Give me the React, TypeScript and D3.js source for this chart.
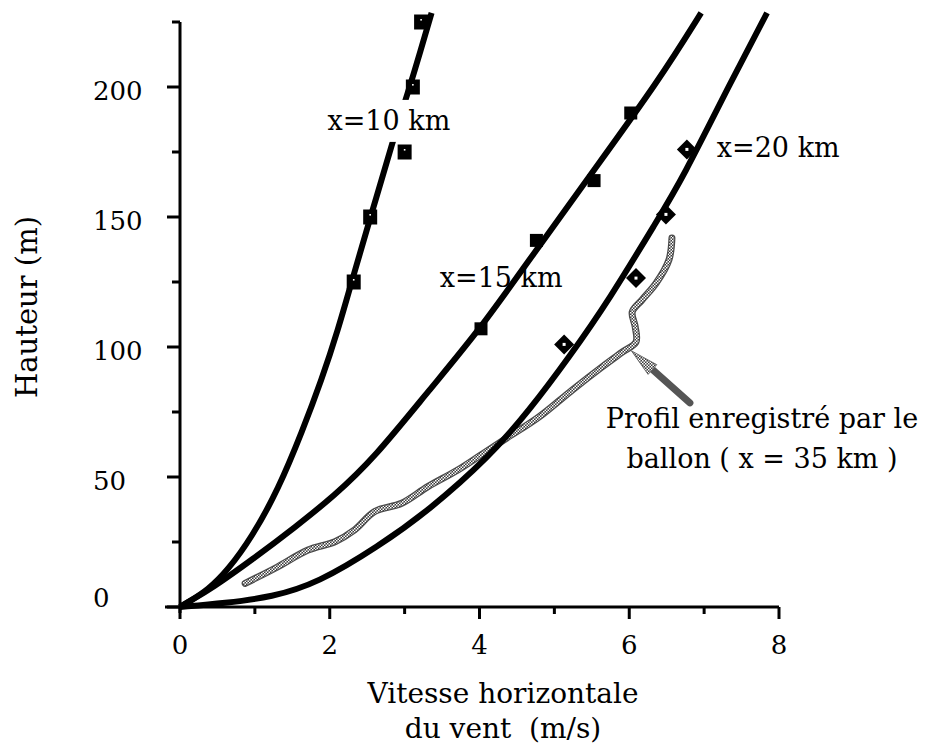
import React from 'react';
import * as d3 from 'd3';

const W = 929;
const H = 748;

// Model curves (v in m/s, h in m)
const curve10: [number, number][] = [
  [0, 0], [0.11, 1.9], [0.37, 6.5], [0.64, 14.2], [0.96, 26.9], [1.31, 45], [1.64, 68.1],
  [1.89, 87.3], [2.11, 106.5], [2.31, 126.9], [2.56, 151.5], [2.84, 178.8], [3.01, 195],
  [3.11, 203.8], [3.36, 228.5],
];
const curve15: [number, number][] = [
  [0, 0], [0.11, 1.9], [0.43, 7.3], [0.96, 18.1], [1.55, 31], [2.05, 42.5], [2.6, 57.5],
  [3.33, 83.5], [4.0, 106.5], [4.73, 136.2], [5.53, 168.1], [6.4, 202.7], [6.96, 228.5],
];
const curve20: [number, number][] = [
  [0, 0], [0.6, 1.5], [1.23, 3.8], [1.84, 9.2], [2.64, 23.1], [3.33, 37.3], [4.13, 57.7],
  [4.67, 75.8], [5.2, 96.2], [5.73, 118.1], [6.38, 149], [6.7, 164.2], [7.37, 202.7],
  [7.84, 228.5],
];

// Measured points
const points10: [number, number][] = [[2.32, 125], [2.54, 150], [3.0, 175], [3.11, 200], [3.22, 225]];
const points15: [number, number][] = [[4.02, 107], [4.76, 141], [5.53, 164], [6.02, 190]];
const points20: [number, number][] = [[5.13, 101], [6.09, 126.5], [6.49, 151], [6.77, 176]];

// Balloon profile (x = 35 km)
const balloon: [number, number][] = [
  [0.87, 9.1], [1.27, 14.9], [1.71, 21.9], [2.07, 25.1], [2.33, 29.6], [2.6, 36.7],
  [2.96, 39.9], [3.31, 46.3], [3.71, 52.7], [4.02, 58.5], [4.36, 64.9], [4.8, 73.2],
  [5.24, 83.5], [5.64, 92.4], [5.91, 98.1], [6.09, 101.9], [6.08, 107.7], [6.04, 113.5],
  [6.17, 118.1], [6.36, 124.6], [6.53, 133.5], [6.57, 141.9],
];

// Annotation arrow (tip, tail) in data units
const arrowTip: [number, number] = [6.03, 98.5];
const arrowTail: [number, number] = [6.81, 78.5];

const xTicks = [0, 1, 2, 3, 4, 5, 6, 7, 8];
const xLabels = [0, 2, 4, 6, 8];
const yTicks = [0, 25, 50, 75, 100, 125, 150, 175, 200, 225];
const yLabels = [0, 50, 100, 150, 200];

const curveLabels = [
  { text: 'x=10 km', v: 1.97, h: 183.5, box: true },
  { text: 'x=15 km', v: 3.47, h: 123, box: false },
  { text: 'x=20 km', v: 7.17, h: 173, box: false },
];
const balloonLabel = ['Profil enregistré par le', 'ballon ( x = 35 km )'];
const xTitle = ['Vitesse horizontale', 'du vent  (m/s)'];
const yTitle = 'Hauteur (m)';

const FONT = '"DejaVu Serif", serif';

export default function App() {
  const x = d3.scaleLinear().domain([0, 8]).range([180, 779]);
  const y = d3.scaleLinear().domain([0, 225]).range([607, 22]);

  const smooth = d3
    .line<[number, number]>()
    .x((d) => x(d[0]))
    .y((d) => y(d[1]))
    .curve(d3.curveBasis);

  const wiggly = d3
    .line<[number, number]>()
    .x((d) => x(d[0]))
    .y((d) => y(d[1]))
    .curve(d3.curveCatmullRom.alpha(0.5));

  const tip = [x(arrowTip[0]), y(arrowTip[1])];
  const tail = [x(arrowTail[0]), y(arrowTail[1])];
  const dx = tail[0] - tip[0];
  const dy = tail[1] - tip[1];
  const len = Math.hypot(dx, dy);
  const ux = dx / len, uy = dy / len;
  const px = -uy, py = ux;
  const headLen = 28, headHalf = 6.5;
  const base = [tip[0] + ux * headLen, tip[1] + uy * headLen];
  const headPts = [
    [tip[0], tip[1]],
    [base[0] + px * headHalf, base[1] + py * headHalf],
    [base[0] - px * headHalf, base[1] - py * headHalf],
  ];

  const diamond = (cx: number, cy: number, r: number) =>
    `M${cx},${cy - r}L${cx + r},${cy}L${cx},${cy + r}L${cx - r},${cy}Z`;

  return (
    <svg
      width={W}
      height={H}
      viewBox={`0 0 ${W} ${H}`}
      style={{ position: 'absolute', left: 0, top: 0, background: '#fff' }}
    >
      <defs>
        <pattern id="checker" patternUnits="userSpaceOnUse" width="3" height="3">
          <rect width="3" height="3" fill="#3a3a3a" />
          <rect x="0" y="0" width="1.5" height="1.5" fill="#fff" />
          <rect x="1.5" y="1.5" width="1.5" height="1.5" fill="#fff" />
        </pattern>
      </defs>
      <rect width={W} height={H} fill="#fff" />

      {/* axes */}
      <line x1={165} x2={x(8)} y1={y(0)} y2={y(0)} stroke="#000" strokeWidth={3} />
      <line x1={x(0)} x2={x(0)} y1={y(225)} y2={y(0) + 6} stroke="#000" strokeWidth={3} />
      {xTicks.map((t) => (
        <line
          key={'xt' + t}
          x1={x(t)}
          x2={x(t)}
          y1={y(0)}
          y2={y(0) + (t % 2 === 0 ? 12 : 7)}
          stroke="#000"
          strokeWidth={3}
        />
      ))}
      {yTicks.map((t) => (
        <line
          key={'yt' + t}
          x1={x(0) - (t % 50 === 0 ? 13 : 8)}
          x2={x(0)}
          y1={y(t)}
          y2={y(t)}
          stroke="#000"
          strokeWidth={3}
        />
      ))}
      {xLabels.map((t) => (
        <text
          key={'xl' + t}
          x={x(t)}
          y={654}
          textAnchor="middle"
          fontFamily={FONT}
          fontSize={26}
          fill="#000"
        >
          {t}
        </text>
      ))}
      {yLabels.map((t) => (
        <text
          key={'yl' + t}
          x={93}
          y={t === 0 ? y(0) : y(t) + 13}
          textAnchor="start"
          fontFamily={FONT}
          fontSize={26}
          fill="#000"
        >
          {t}
        </text>
      ))}

      {/* axis titles */}
      <text x={503} y={703} textAnchor="middle" fontFamily={FONT} fontSize={28} fill="#000">
        {xTitle[0]}
      </text>
      <text x={503} y={738} textAnchor="middle" fontFamily={FONT} fontSize={28} fill="#000" xmlSpace="preserve">
        {xTitle[1]}
      </text>
      <text
        transform={`translate(37,307) rotate(-90)`}
        textAnchor="middle"
        fontFamily={FONT}
        fontSize={29}
        fill="#000"
      >
        {yTitle}
      </text>

      {/* balloon profile */}
      <path d={wiggly(balloon) || ''} fill="none" stroke="#4a4a4a" strokeWidth={7} strokeLinecap="round" strokeLinejoin="round" />
      <path d={wiggly(balloon) || ''} fill="none" stroke="url(#checker)" strokeWidth={4.5} strokeLinecap="round" strokeLinejoin="round" />

      {/* model curves */}
      {[curve10, curve15, curve20].map((c, i) => (
        <path key={'c' + i} d={smooth(c) || ''} fill="none" stroke="#000" strokeWidth={6} strokeLinejoin="round" />
      ))}

      {/* markers */}
      {points10.map((p, i) => (
        <g key={'p10' + i}>
          <rect x={x(p[0]) - 7} y={y(p[1]) - 7.5} width={14} height={15} fill="#000" />
          <rect x={x(p[0]) - 0.8} y={y(p[1]) - 3} width={1.6} height={1.6} fill="#fff" />
        </g>
      ))}
      {points15.map((p, i) => (
        <rect key={'p15' + i} x={x(p[0]) - 6.5} y={y(p[1]) - 6.5} width={13} height={13} fill="#000" />
      ))}
      {points20.map((p, i) => (
        <g key={'p20' + i}>
          <path d={diamond(x(p[0]), y(p[1]), 10)} fill="#000" />
          <rect x={x(p[0]) - 1.5} y={y(p[1]) - 1.5} width={3} height={3} fill="#fff" />
        </g>
      ))}

      {/* annotation arrow */}
      <line
        x1={base[0] - ux * 2}
        y1={base[1] - uy * 2}
        x2={tail[0]}
        y2={tail[1]}
        stroke="#555"
        strokeWidth={7}
        strokeLinecap="round"
      />
      <polygon points={headPts.map((p) => p.join(',')).join(' ')} fill="url(#checker)" stroke="#666" strokeWidth={1} />

      {/* curve labels */}
      {curveLabels.map((l) => (
        <g key={l.text}>
          {l.box && <rect x={x(l.v) - 2} y={y(l.h) - 30} width={128} height={42} fill="#fff" />}
          <text x={x(l.v)} y={y(l.h)} fontFamily={FONT} fontSize={27} fill="#000">
            {l.text}
          </text>
        </g>
      ))}
      <text x={762} y={428} textAnchor="middle" fontFamily={FONT} fontSize={27} fill="#000">
        {balloonLabel[0]}
      </text>
      <text x={762} y={468} textAnchor="middle" fontFamily={FONT} fontSize={27} fill="#000">
        {balloonLabel[1]}
      </text>
    </svg>
  );
}
